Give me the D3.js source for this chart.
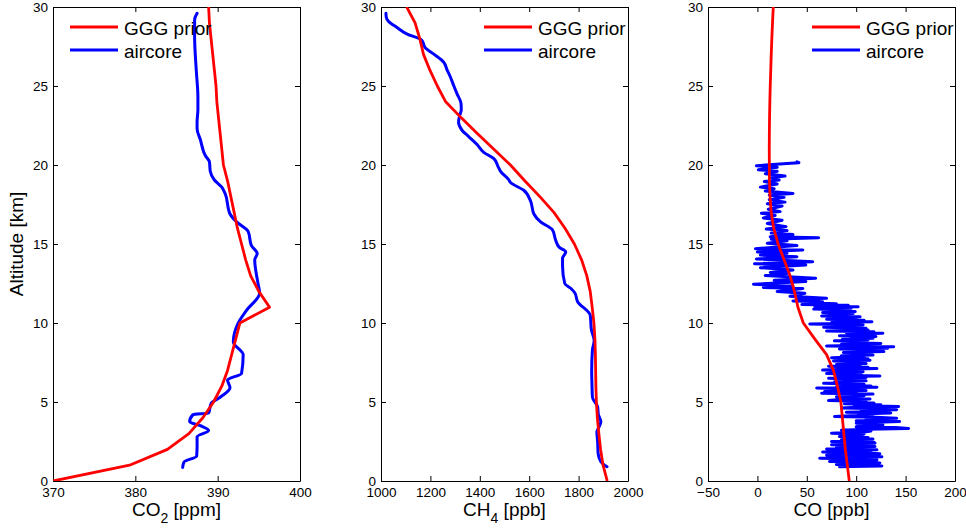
<!DOCTYPE html>
<html lang="en">
<head>
<meta charset="utf-8" />
<title>GGG prior vs aircore</title>
<script src="https://cdn.jsdelivr.net/npm/d3@7/dist/d3.min.js"></script>
<style>
    body { margin: 0; background: #fff; }
    svg text { font-family: "Liberation Sans", Arial, Helvetica, sans-serif; fill: #000; }
</style>
</head>
<body>
<svg id="chart" width="966" height="528"></svg>
<script type="text/javascript">
    // altitude grid of the GGG prior [km]
    var priorAlt = [0, 1, 2, 3, 4, 5, 6, 7, 8, 9, 10, 11, 12, 13, 14, 15, 16, 17, 18, 19, 20, 21, 22, 23, 24, 25, 26, 27, 28, 29, 30];

    var co2Prior = [370, 379.3, 383.9, 386.5, 388.2, 389.5, 390.5, 391.2, 391.7, 392.2, 392.7, 396.3, 395.0, 394.0, 393.4, 392.9,
        392.4, 392.0, 391.6, 391.2, 390.7, 390.5, 390.3, 390.1, 389.9, 389.8, 389.6, 389.4, 389.2, 389.0, 388.9];
    var ch4Prior = [1916, 1899, 1889, 1882, 1876, 1872, 1870, 1869, 1868, 1866, 1862, 1855, 1847, 1833, 1812, 1783,
        1745, 1700, 1643, 1582, 1524, 1457, 1390, 1324, 1262, 1228, 1198, 1172, 1157, 1138, 1104];
    var coPrior = [93, 91, 89, 87.5, 86, 84.5, 81, 77, 70, 58, 46.5, 41, 37.5, 33, 27, 21,
        16.5, 14, 12.8, 12.2, 12.1, 12.0, 12.1, 12.3, 12.6, 13.0, 13.5, 14.0, 14.6, 15.3, 16.1];

    // aircore profiles, [altitude km, mole fraction]
    var co2Aircore = [[0.86, 385.75], [1.2, 385.9], [1.58, 387.45], [2.2, 387.5], [2.8, 387.5], [3.2, 388.9], [3.5, 387.9],
        [3.75, 386.6], [4.2, 387.0], [4.3, 388.9], [4.9, 389.2], [5.3, 390.3], [5.9, 391.5], [6.4, 391.2], [6.8, 392.9],
        [8.0, 393.1], [8.8, 391.9], [10.0, 392.5], [10.8, 393.5], [11.9, 395.1], [12.5, 394.9], [14.0, 394.5],
        [14.4, 394.8], [14.9, 394.1], [15.8, 393.7], [16.4, 392.3], [16.9, 391.5], [18.2, 390.9], [18.6, 390.5],
        [19.05, 389.6], [19.6, 389.1], [20.2, 389.0], [20.6, 388.5], [21.6, 387.9], [22.3, 387.5], [22.7, 387.5],
        [23.5, 387.6], [24.3, 387.6], [26.0, 387.4], [28.1, 387.2], [29.2, 387.2], [29.6, 387.5]];

    var ch4Aircore = [[0.9, 1915], [1.22, 1890], [1.75, 1879], [2.5, 1877], [3.1, 1874], [3.4, 1882], [3.75, 1890],
        [4.2, 1880], [4.7, 1877], [5.3, 1856], [6.2, 1854], [7.0, 1853], [8.3, 1856], [8.9, 1863], [9.55, 1852],
        [10.5, 1847], [11.35, 1796], [11.9, 1785], [12.2, 1768], [12.5, 1744], [13.6, 1735], [14.1, 1735],
        [14.5, 1748], [14.8, 1721], [15.25, 1707], [15.9, 1694], [16.4, 1646], [16.9, 1619], [17.7, 1606],
        [18.4, 1578], [18.9, 1524], [19.05, 1518], [19.6, 1484], [19.9, 1474], [20.4, 1457], [20.8, 1416],
        [21.3, 1389], [21.8, 1355], [22.2, 1328], [22.7, 1314], [23.1, 1318], [23.5, 1325], [23.9, 1324],
        [24.5, 1308], [25.0, 1295], [25.6, 1280], [26.0, 1268], [26.5, 1254], [27.0, 1215], [27.4, 1180],
        [27.9, 1165], [28.3, 1104], [28.7, 1065], [29.1, 1030], [29.3, 1022], [29.6, 1020]];

    var coAircore = [[20.2, 40], [20.15, 42], [20.1, 30], [19.95, -1], [19.85, 20], [19.7, 1], [19.6, 20], [19.45, 8],
        [19.3, 28], [19.2, 13], [19.05, 22], [18.95, 7], [18.8, 20], [18.6, 3], [18.5, 17], [18.35, 8], [18.2, 36],
        [18.1, 12], [17.95, 27], [17.8, 12], [17.65, 28], [17.55, 10], [17.4, 25], [17.2, 11], [17.05, 23],
        [16.95, 4], [16.8, 18], [16.65, 6], [16.5, 25], [16.3, 10], [16.1, 29], [15.95, 9], [15.85, 30],
        [15.7, 14], [15.6, 36], [15.46, 13], [15.4, 62], [15.3, 14], [15.2, 30], [15.05, 10], [14.9, 40],
        [14.7, -2], [14.62, 46], [14.5, 0], [14.41, 30], [14.3, 3], [14.2, 40], [14.05, -1], [13.88, 56],
        [13.75, -3], [13.67, 49], [13.5, 3], [13.35, 36], [13.2, 13], [13.14, 30], [13.0, 8], [12.83, 59],
        [12.7, 17], [12.62, 49], [12.45, -4], [12.34, 36], [12.25, 6], [12.19, 46], [12.0, 20], [11.88, 48],
        [11.7, 33], [11.56, 70], [11.5, 40], [11.45, 62], [11.4, 36], [11.34, 66], [11.28, 48], [11.22, 80],
        [11.17, 45], [11.12, 92], [11.07, 58], [11.03, 102], [10.98, 60], [10.93, 95], [10.88, 57], [10.82, 93],
        [10.77, 70], [10.72, 99], [10.66, 66], [10.6, 97], [10.55, 75], [10.5, 92], [10.45, 65], [10.4, 104],
        [10.34, 78], [10.29, 100], [10.24, 70], [10.18, 108], [10.13, 82], [10.08, 116], [10.03, 75], [9.98, 98],
        [9.94, 53], [9.88, 107], [9.83, 80], [9.78, 104], [9.73, 67], [9.67, 110], [9.62, 88], [9.56, 112],
        [9.5, 70], [9.44, 118], [9.39, 90], [9.35, 127], [9.3, 92], [9.24, 115], [9.19, 83], [9.14, 120],
        [9.08, 95], [9.03, 117], [8.97, 86], [8.92, 112], [8.87, 78], [8.82, 110], [8.76, 92], [8.7, 125],
        [8.65, 85], [8.6, 118], [8.55, 70], [8.5, 138], [8.45, 95], [8.4, 132], [8.35, 83], [8.29, 120],
        [8.24, 96], [8.19, 128], [8.13, 87], [8.08, 115], [8.03, 92], [7.97, 117], [7.92, 85], [7.86, 108],
        [7.8, 75], [7.74, 112], [7.69, 90], [7.64, 114], [7.59, 77], [7.53, 105], [7.48, 88], [7.43, 110],
        [7.37, 80], [7.32, 104], [7.27, 72], [7.2, 112], [7.16, 85], [7.12, 121], [7.07, 90], [7.02, 66],
        [6.97, 100], [6.92, 107], [6.86, 82], [6.81, 70], [6.76, 105], [6.7, 88], [6.65, 124], [6.6, 80],
        [6.55, 110], [6.5, 72], [6.44, 104], [6.39, 86], [6.34, 110], [6.28, 78], [6.23, 100], [6.18, 67],
        [6.12, 108], [6.07, 85], [6.01, 115], [5.96, 80], [5.93, 121], [5.88, 60], [5.82, 95], [5.77, 78],
        [5.72, 110], [5.66, 68], [5.61, 100], [5.56, 65], [5.5, 117], [5.45, 85], [5.4, 108], [5.34, 80],
        [5.29, 104], [5.24, 90], [5.19, 114], [5.14, 80], [5.09, 72], [5.04, 110], [4.99, 95], [4.94, 118],
        [4.89, 88], [4.83, 125], [4.78, 98], [4.72, 143], [4.67, 100], [4.62, 85], [4.57, 130], [4.51, 141],
        [4.46, 105], [4.4, 125], [4.35, 90], [4.3, 135], [4.24, 102], [4.18, 117], [4.13, 95], [4.08, 78],
        [4.03, 120], [3.97, 141], [3.92, 110], [3.86, 130], [3.81, 100], [3.76, 144], [3.71, 112], [3.66, 100],
        [3.6, 125], [3.55, 127], [3.5, 105], [3.44, 100], [3.39, 140], [3.33, 153], [3.28, 110], [3.22, 85],
        [3.17, 115], [3.12, 110], [3.07, 90], [3.02, 75], [2.97, 108], [2.92, 105], [2.87, 88], [2.82, 83],
        [2.76, 112], [2.71, 95], [2.66, 117], [2.61, 85], [2.55, 110], [2.5, 75], [2.45, 118], [2.4, 119],
        [2.35, 88], [2.3, 75], [2.24, 115], [2.18, 119], [2.13, 80], [2.08, 110], [2.03, 70], [1.98, 121],
        [1.93, 90], [1.88, 115], [1.83, 66], [1.78, 110], [1.73, 124], [1.68, 80], [1.63, 70], [1.58, 118],
        [1.53, 126], [1.48, 75], [1.44, 63], [1.39, 112], [1.34, 121], [1.29, 85], [1.24, 73], [1.19, 115],
        [1.14, 124], [1.09, 90], [1.04, 80], [0.99, 118], [0.95, 126], [0.92, 95], [0.9, 83]];

    var altTicks = [0, 5, 10, 15, 20, 25, 30];
    var co2Ticks = [370, 380, 390, 400];
    var ch4Ticks = [1000, 1200, 1400, 1600, 1800, 2000];
    var coTicks = [-50, 0, 50, 100, 150, 200];

    var plotTop = 7, plotBottom = 481, panelWidth = 247;
    var svg = d3.select("#chart");

    var panels = [
        { left: 53, domain: [370, 400], ticks: co2Ticks, prior: co2Prior, aircore: co2Aircore, smooth: true, label: ["CO", "2", " [ppm]"], legendX: 17 },
        { left: 381, domain: [1000, 2000], ticks: ch4Ticks, prior: ch4Prior, aircore: ch4Aircore, smooth: true, label: ["CH", "4", " [ppb]"], legendX: 103 },
        { left: 708, domain: [-50, 200], ticks: coTicks, prior: coPrior, aircore: coAircore, smooth: false, label: ["CO [ppb]", "", ""], legendX: 104 }
    ];

    var y = d3.scaleLinear().domain([0, 30]).range([plotBottom - plotTop, 0]);

    function fmt(d) { return d < 0 ? "\u2212" + Math.abs(d) : String(d); }

    function styleAxis(g) {
        g.attr("font-family", null).attr("font-size", null);
        g.selectAll("path.domain").attr("stroke", "#000").attr("stroke-width", 1);
        g.selectAll(".tick line").attr("stroke", "#000").attr("stroke-width", 1);
        g.selectAll(".tick text").attr("font-size", "13.5px").attr("fill", "#000");
    }

    panels.forEach(function (p, i) {
        var x = d3.scaleLinear().domain(p.domain).range([0, panelWidth]);
        var h = plotBottom - plotTop;
        var g = svg.append("g").attr("transform", "translate(" + p.left + "," + plotTop + ")");

        g.append("clipPath").attr("id", "clip" + i)
            .append("rect").attr("x", 0).attr("y", 0).attr("width", panelWidth).attr("height", h);

        g.append("g").attr("transform", "translate(0," + h + ")")
            .call(d3.axisBottom(x).tickValues(p.ticks).tickFormat(fmt).tickSizeInner(-5).tickSizeOuter(0).tickPadding(6))
            .call(styleAxis);
        g.append("g")
            .call(d3.axisTop(x).tickValues(p.ticks).tickFormat("").tickSizeInner(-5).tickSizeOuter(0))
            .call(styleAxis);
        g.append("g")
            .call(d3.axisLeft(y).tickValues(altTicks).tickFormat(fmt).tickSizeInner(-5).tickSizeOuter(0).tickPadding(5))
            .call(styleAxis);
        g.append("g").attr("transform", "translate(" + panelWidth + ",0)")
            .call(d3.axisRight(y).tickValues(altTicks).tickFormat("").tickSizeInner(-5).tickSizeOuter(0))
            .call(styleAxis);

        var plot = g.append("g").attr("clip-path", "url(#clip" + i + ")");

        var aircoreLine = d3.line()
            .curve(p.smooth ? d3.curveMonotoneY : d3.curveLinear)
            .x(function (d) { return x(d[1]); })
            .y(function (d) { return y(d[0]); });
        var priorLine = d3.line()
            .x(function (d, k) { return x(d); })
            .y(function (d, k) { return y(priorAlt[k]); });

        plot.append("path").datum(p.aircore)
            .attr("d", aircoreLine)
            .attr("fill", "none").attr("stroke", "#0000ff").attr("stroke-width", 3)
            .attr("stroke-linejoin", "round").attr("stroke-linecap", "round");
        plot.append("path").datum(p.prior)
            .attr("d", priorLine)
            .attr("fill", "none").attr("stroke", "#ff0000").attr("stroke-width", 2.8)
            .attr("stroke-linejoin", "round");

        // legend
        var legend = g.append("g").attr("transform", "translate(" + p.legendX + ",0)");
        [["GGG prior", "#ff0000", 20], ["aircore", "#0000ff", 43]].forEach(function (e) {
            legend.append("line").attr("x1", 0).attr("x2", 48).attr("y1", e[2]).attr("y2", e[2])
                .attr("stroke", e[1]).attr("stroke-width", 2.8);
            legend.append("text").attr("x", 54).attr("y", e[2] + 8).attr("font-size", "19px").text(e[0]);
        });

        // x label with subscript
        var lab = svg.append("text").attr("x", p.left + panelWidth / 2).attr("y", 516)
            .attr("text-anchor", "middle").attr("font-size", "19px");
        lab.append("tspan").text(p.label[0]);
        if (p.label[1]) {
            lab.append("tspan").attr("font-size", "14px").attr("dy", 7).text(p.label[1]);
            lab.append("tspan").attr("dy", -7).text(p.label[2]);
        }
    });

    svg.append("text").attr("transform", "translate(23," + ((plotTop + plotBottom) / 2) + ") rotate(-90)")
        .attr("text-anchor", "middle").attr("font-size", "19px").text("Altitude [km]");
</script>
</body>
</html>
